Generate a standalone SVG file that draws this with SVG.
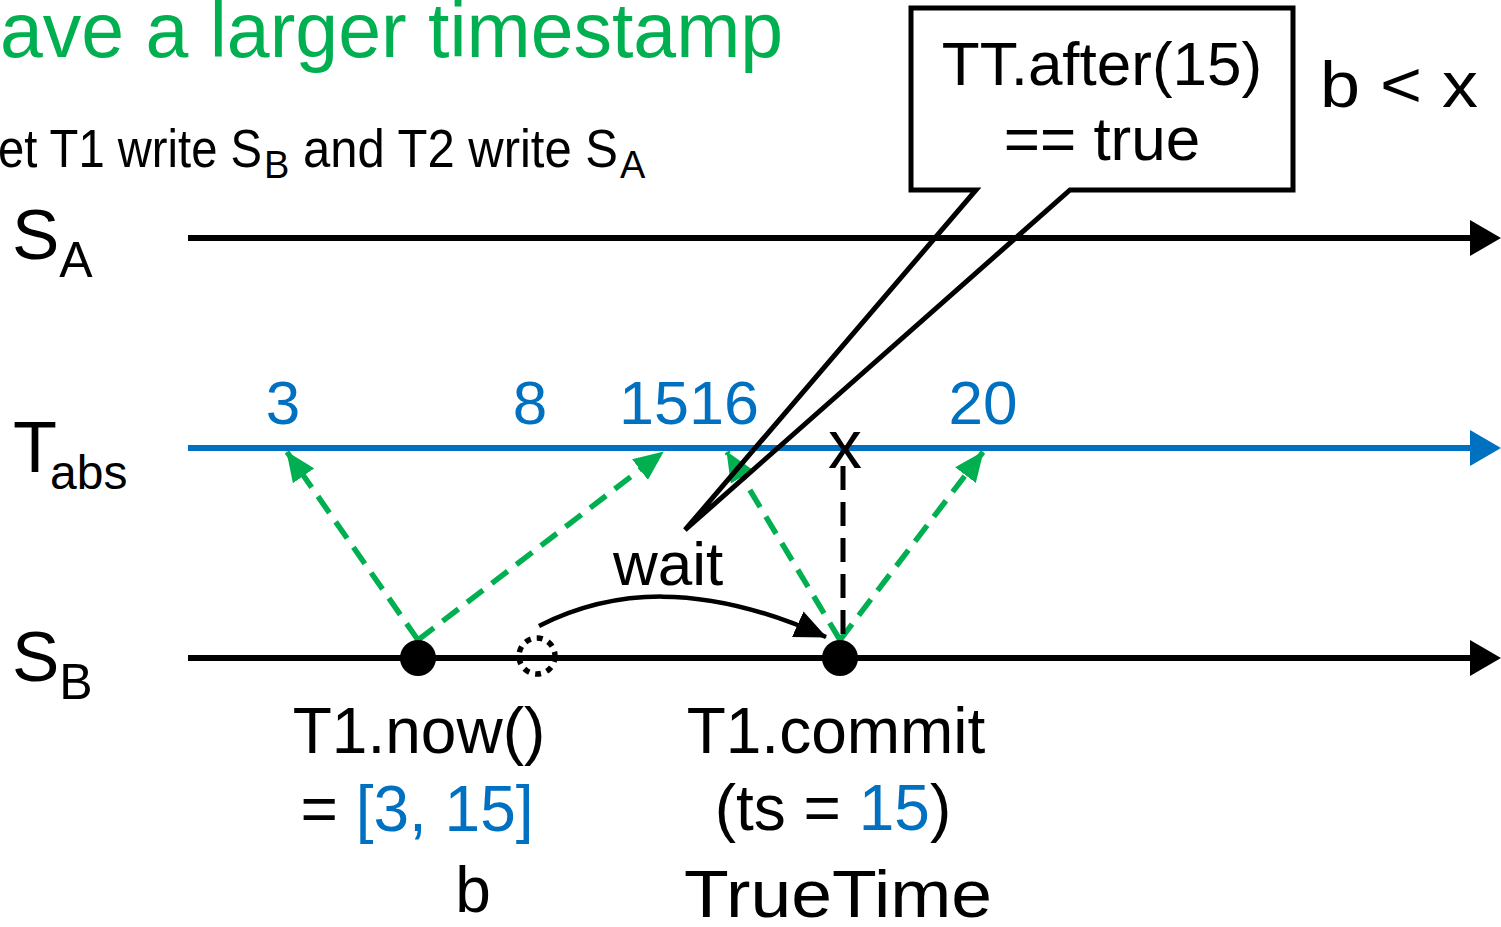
<svg xmlns="http://www.w3.org/2000/svg" width="1501" height="927" viewBox="0 0 1501 927">
<style>
text{font-family:"Liberation Sans",Arial,sans-serif;fill:#000}
.blue{fill:#0070C0}
.green{fill:#00B050}
.axis{stroke-width:6;fill:none}
.gd{stroke:#00B050;stroke-width:5.5;stroke-dasharray:20 11;fill:none}
</style>
<defs>
<marker id="ga" markerUnits="userSpaceOnUse" viewBox="0 0 30 26" refX="29" refY="13" markerWidth="30" markerHeight="26" orient="auto">
<path d="M0,0 L30,13 L0,26 Z" fill="#00B050"/>
</marker>
<marker id="ba" markerUnits="userSpaceOnUse" viewBox="0 0 32 28" refX="31" refY="14" markerWidth="32" markerHeight="28" orient="auto">
<path d="M0,0 L32,14 L0,28 Z" fill="#000"/>
</marker>
</defs>

<g id="title">
<text x="0" y="57" font-size="77" class="green">ave a larger timestamp</text>
<text y="167" font-size="54"><tspan x="-2" textLength="264" lengthAdjust="spacingAndGlyphs">et T1 write S</tspan><tspan x="264" y="178" font-size="38">B</tspan><tspan x="303" y="167" textLength="315" lengthAdjust="spacingAndGlyphs">and T2 write S</tspan><tspan x="620" y="178" font-size="38">A</tspan></text>
</g>

<g id="axes">
<g id="SA">
<line x1="188" y1="238" x2="1475" y2="238" stroke="#000" class="axis"/>
<path d="M1470,220 L1501,238 L1470,256 Z" fill="#000"/>
<text x="12" y="259" font-size="71">S<tspan y="277" font-size="50">A</tspan></text>
</g>
<g id="Tabs">
<line x1="188" y1="448" x2="1475" y2="448" stroke="#0070C0" class="axis"/>
<path d="M1470,430 L1501,448 L1470,466 Z" fill="#0070C0"/>
<text x="13" y="472" font-size="72">T<tspan dx="-7" y="489" font-size="48">abs</tspan></text>
</g>
<g id="SB">
<line x1="188" y1="658" x2="1475" y2="658" stroke="#000" class="axis"/>
<path d="M1470,640 L1501,658 L1470,676 Z" fill="#000"/>
<text x="12" y="681" font-size="71">S<tspan y="699" font-size="50">B</tspan></text>
</g>
</g>

<g id="ticks">
<text x="283" y="424" font-size="62" class="blue" text-anchor="middle">3</text>
<text x="530" y="424" font-size="62" class="blue" text-anchor="middle">8</text>
<text x="619" y="424" font-size="62" class="blue" textLength="140" lengthAdjust="spacingAndGlyphs">1516</text>
<text x="983" y="424" font-size="62" class="blue" text-anchor="middle">20</text>
</g>

<g id="connectors">
<line x1="418" y1="640" x2="287" y2="452" class="gd" marker-end="url(#ga)"/>
<line x1="418" y1="640" x2="663" y2="452" class="gd" marker-end="url(#ga)"/>
<line x1="840" y1="640" x2="727" y2="452" class="gd" marker-end="url(#ga)"/>
<line x1="840" y1="640" x2="983" y2="452" class="gd" marker-end="url(#ga)"/>
<line x1="843" y1="466" x2="843" y2="640" stroke="#000" stroke-width="5" stroke-dasharray="24 12"/>
<path d="M539,626 C610,590 700,580 826,637" fill="none" stroke="#000" stroke-width="4.5" marker-end="url(#ba)"/>
</g>

<g id="x-mark">
<text x="845" y="468" font-size="68" text-anchor="middle">x</text>
</g>

<g id="now-dot">
<circle cx="418" cy="658" r="18" fill="#000"/>
<text x="419" y="753" font-size="64" text-anchor="middle">T1.now()</text>
<text x="417" y="831" font-size="64" text-anchor="middle">= <tspan class="blue">[3, 15]</tspan></text>
<text x="473" y="912" font-size="64" text-anchor="middle">b</text>
</g>

<g id="wait-start">
<circle cx="537" cy="656" r="18" fill="none" stroke="#000" stroke-width="5.5" stroke-dasharray="6 6"/>
</g>

<g id="wait-label">
<text x="613" y="585" font-size="62">wait</text>
</g>

<g id="commit-dot">
<circle cx="840" cy="658" r="18" fill="#000"/>
<text x="836" y="753" font-size="64" text-anchor="middle">T1.commit</text>
<text x="833" y="830" font-size="64" text-anchor="middle">(ts = <tspan class="blue">15</tspan>)</text>
<text x="838" y="917" font-size="66" text-anchor="middle" textLength="308" lengthAdjust="spacingAndGlyphs">TrueTime</text>
</g>

<g id="callout">
<path d="M911,8 H1293 V190 H1070 L685,530 L976,190 H911 Z" fill="none" stroke="#000" stroke-width="5" stroke-linejoin="miter"/>
<text x="1102" y="85" font-size="62" text-anchor="middle">TT.after(15)</text>
<text x="1102" y="160" font-size="62" text-anchor="middle">== true</text>
</g>

<g id="relation">
<text x="1320" y="107" font-size="64" textLength="158" lengthAdjust="spacingAndGlyphs">b &lt; x</text>
</g>
</svg>
